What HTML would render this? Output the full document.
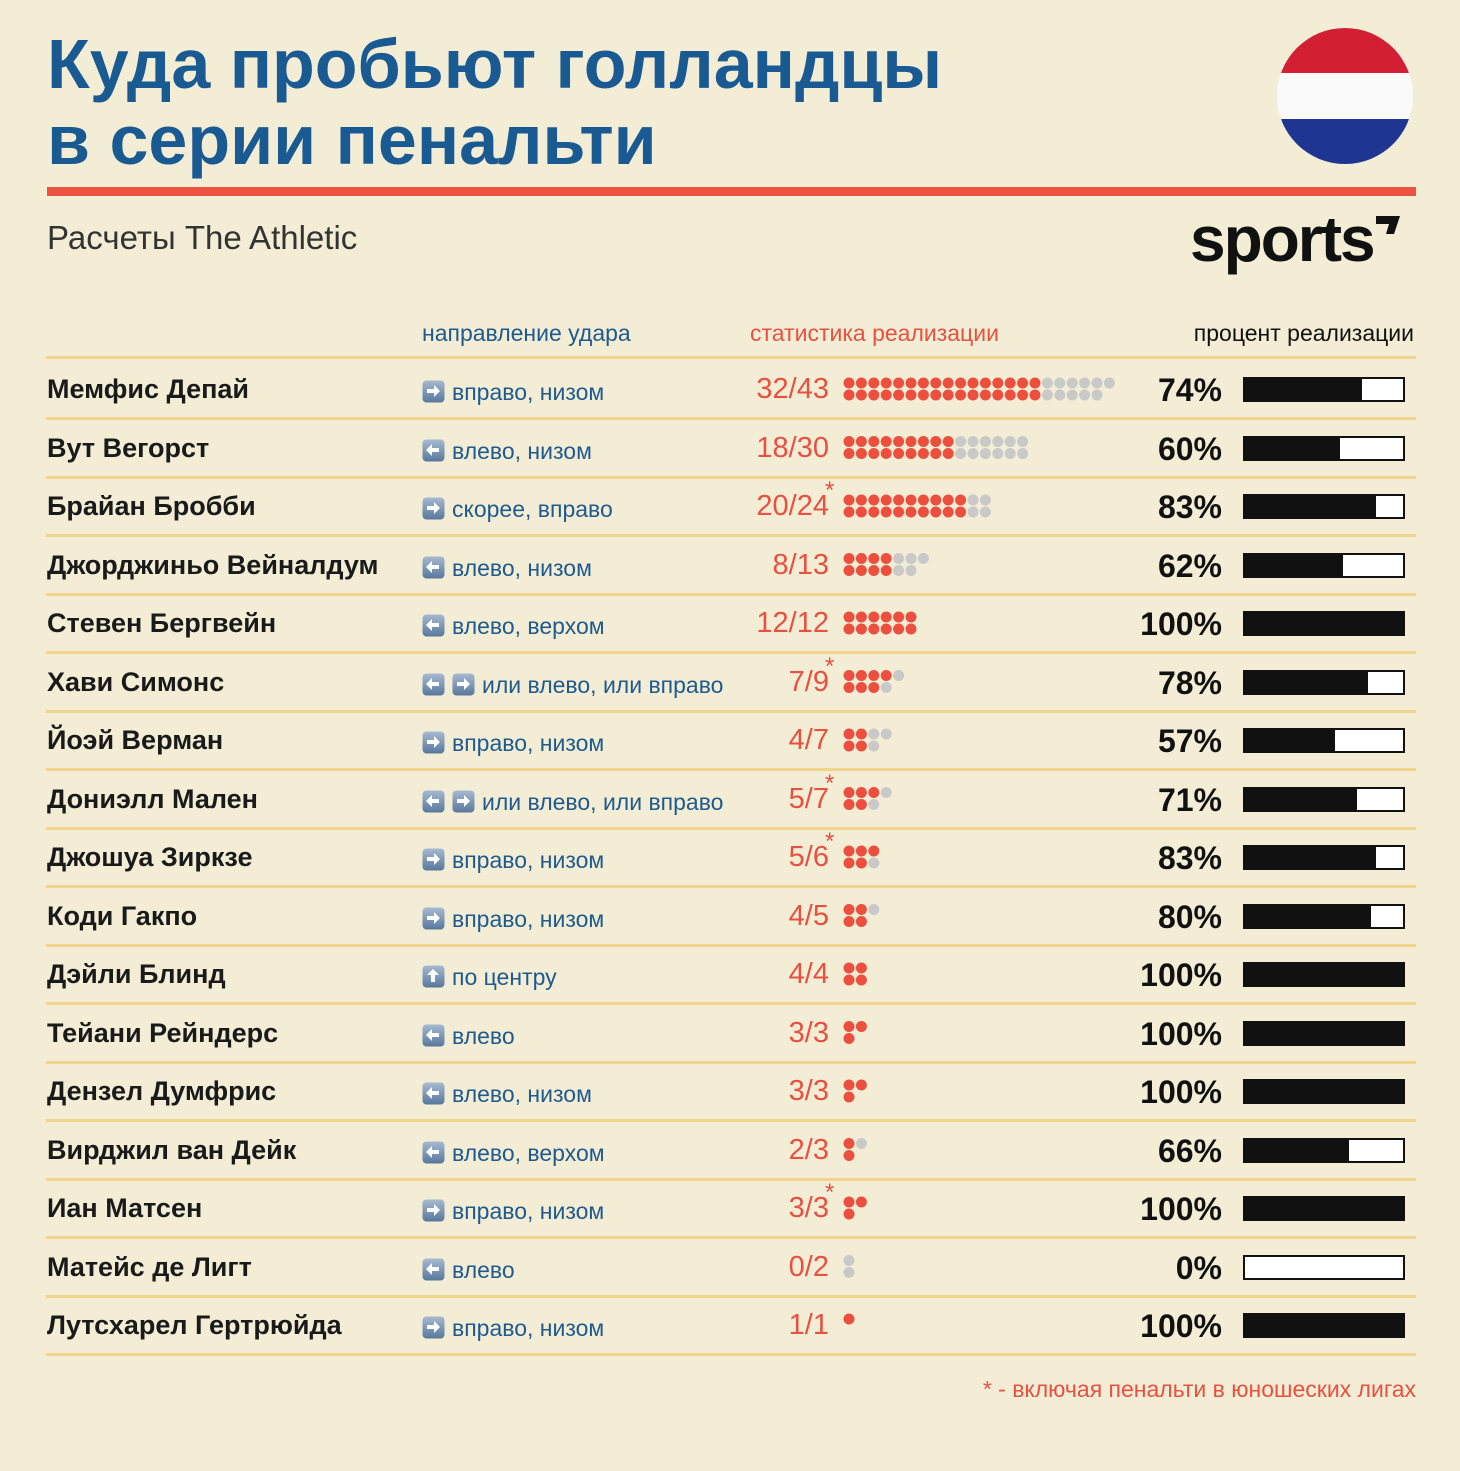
<!DOCTYPE html>
<html><head><meta charset="utf-8">
<style>
body{margin:0;background:#f3edd6;}
#root{position:relative;width:1460px;height:1471px;overflow:hidden;background:#f3edd6;font-family:"Liberation Sans",sans-serif;}
.abs{position:absolute;white-space:nowrap;}
.title{left:47px;color:#1a5a92;font-weight:bold;font-size:70px;letter-spacing:0px;line-height:76px;}
.name{left:47px;font-weight:bold;font-size:27px;color:#1a1a1a;}
.dir{font-size:23px;color:#1f5a8f;}
.frac{font-size:29px;color:#e8503f;text-align:right;width:120px;left:709px;}
.pct{font-weight:bold;font-size:32px;color:#111;text-align:right;width:120px;left:1102px;}
.sep{left:46px;width:1370px;height:3px;background:#f0d58a;}
</style></head><body>
<div id="root">
<div class="abs title" style="top:26px">Куда пробьют голландцы</div>
<div class="abs title" style="top:102px">в серии пенальти</div>
<svg class="abs" style="left:1276px;top:27px" width="138" height="138">
<defs><clipPath id="c"><circle cx="69" cy="69" r="68"/></clipPath></defs>
<g clip-path="url(#c)"><rect width="138" height="46" fill="#d21f34"/><rect y="46" width="138" height="46" fill="#fafafa"/><rect y="92" width="138" height="46" fill="#1e3592"/></g></svg>
<div class="abs" style="left:47px;top:187px;width:1369px;height:9px;background:#ec5240"></div>
<div class="abs" style="left:47px;top:219px;font-size:33px;color:#333">Расчеты The Athletic</div>
<div class="abs" style="left:1190px;top:202px;font-size:64px;font-weight:bold;color:#111;letter-spacing:-2px">sports<svg width="24" height="20" style="vertical-align:top;margin-top:14px;margin-left:2px"><polygon points="0,0 24,0 18,18 10,18 13,8 0,8" fill="#111"/></svg></div>
<div class="abs dir" style="left:422px;top:320px">направление удара</div>
<div class="abs" style="left:750px;top:320px;font-size:23px;color:#e8503f">статистика реализации</div>
<div class="abs" style="right:46px;top:320px;font-size:23px;color:#111">процент реализации</div>
<div class="abs sep" style="top:356px"></div>
<div class="abs" style="right:44px;top:1376px;font-size:23px;color:#e8503f">* - включая пенальти в юношеских лигах</div>
<svg id="dots" class="abs" style="left:0;top:0" width="1460" height="1471"></svg>
</div>
<script>
const names=["Мемфис Депай","Вут Вегорст","Брайан Бробби","Джорджиньо Вейналдум","Стевен Бергвейн","Хави Симонс","Йоэй Верман","Дониэлл Мален","Джошуа Зиркзе","Коди Гакпо","Дэйли Блинд","Тейани Рейндерс","Дензел Думфрис","Вирджил ван Дейк","Иан Матсен","Матейс де Лигт","Лутсхарел Гертрюйда"];
const directions=["вправо, низом","влево, низом","скорее, вправо","влево, низом","влево, верхом","или влево, или вправо","вправо, низом","или влево, или вправо","вправо, низом","вправо, низом","по центру","влево","влево, низом","влево, верхом","вправо, низом","влево","вправо, низом"];
const icons=["R","L","R","L","L","LR","R","LR","R","R","U","L","L","L","R","L","R"];
const made=[32,18,20,8,12,7,4,5,5,4,4,3,3,2,3,0,1];
const attempts=[43,30,24,13,12,9,7,7,6,5,4,3,3,3,3,2,1];
const percents=[74,60,83,62,100,78,57,71,83,80,100,100,100,66,100,0,100];
const youth=[0,0,1,0,0,1,0,1,1,0,0,0,0,0,1,0,0];

const root=document.getElementById('root');
const svg=document.getElementById('dots');
const NS="http://www.w3.org/2000/svg";
const y0=389,pitch=58.5;
const rowY=i=>y0+i*pitch;
const dotX=c=>849+c*12.4;
function iconSvg(t){
  const paths={R:"M5 9h7V5l6 6-6 6v-4H5z",L:"M17 9h-7V5l-6 6 6 6v-4h7z",U:"M9 17V10H5l6-6 6 6h-4v7z"};
  return '<svg width="23" height="23" style="vertical-align:-3px;margin-right:7px"><defs><linearGradient id="g'+t+'" x1="0" y1="0" x2="0" y2="1"><stop offset="0" stop-color="#a7bad0"/><stop offset="1" stop-color="#57789c"/></linearGradient></defs><rect x="0.5" y="0.5" width="22" height="22" rx="4" fill="url(#g'+t+')"/><path d="'+paths[t]+'" fill="#fff"/></svg>';
}
names.forEach((n,i)=>{
  const y=rowY(i);
  const nm=document.createElement('div');nm.className='abs name';nm.style.top=(y-15)+'px';nm.textContent=n;
  
  
  root.appendChild(nm);
  const d=document.createElement('div');d.className='abs dir';d.style.left='422px';d.style.top=(y-10)+'px';
  d.innerHTML=icons[i].split('').map(iconSvg).join('')+directions[i];
  
  
  root.appendChild(d);
  const f=document.createElement('div');f.className='abs frac';f.style.top=(y-16)+'px';f.textContent=made[i]+'/'+attempts[i];
  
  
  root.appendChild(f);
  if(youth[i]){const a=document.createElement('div');a.className='abs';a.style.cssText='left:825px;top:'+(y-29)+'px;font-size:24px;color:#e8503f';a.textContent='*';
    
    
    root.appendChild(a);}
  for(let k=0;k<attempts[i];k++){
    const c=document.createElementNS(NS,'circle');
    c.setAttribute('cx',dotX(Math.floor(k/2)));c.setAttribute('cy',y+(k%2?6:-6));c.setAttribute('r',5.5);
    c.setAttribute('fill',k<made[i]?'#ec4f3e':'#c9c9c9');
    
    
    svg.appendChild(c);
  }
  const p=document.createElement('div');p.className='abs pct';p.style.top=(y-17)+'px';p.textContent=percents[i]+'%';
  
  
  root.appendChild(p);
  const b=document.createElement('div');b.className='abs';b.style.cssText='left:1243px;top:'+(y-12)+'px;width:158px;height:21px;border:2px solid #111;background:#fff';
  
  
  const fill=document.createElement('div');fill.style.cssText='height:100%;background:#111;width:'+(percents[i]/100*158)+'px';
  
  
  b.appendChild(fill);root.appendChild(b);
  const s=document.createElement('div');s.className='abs sep';s.style.top=(y+28)+'px';
  
  
  root.appendChild(s);
});
</script>
</body></html>
